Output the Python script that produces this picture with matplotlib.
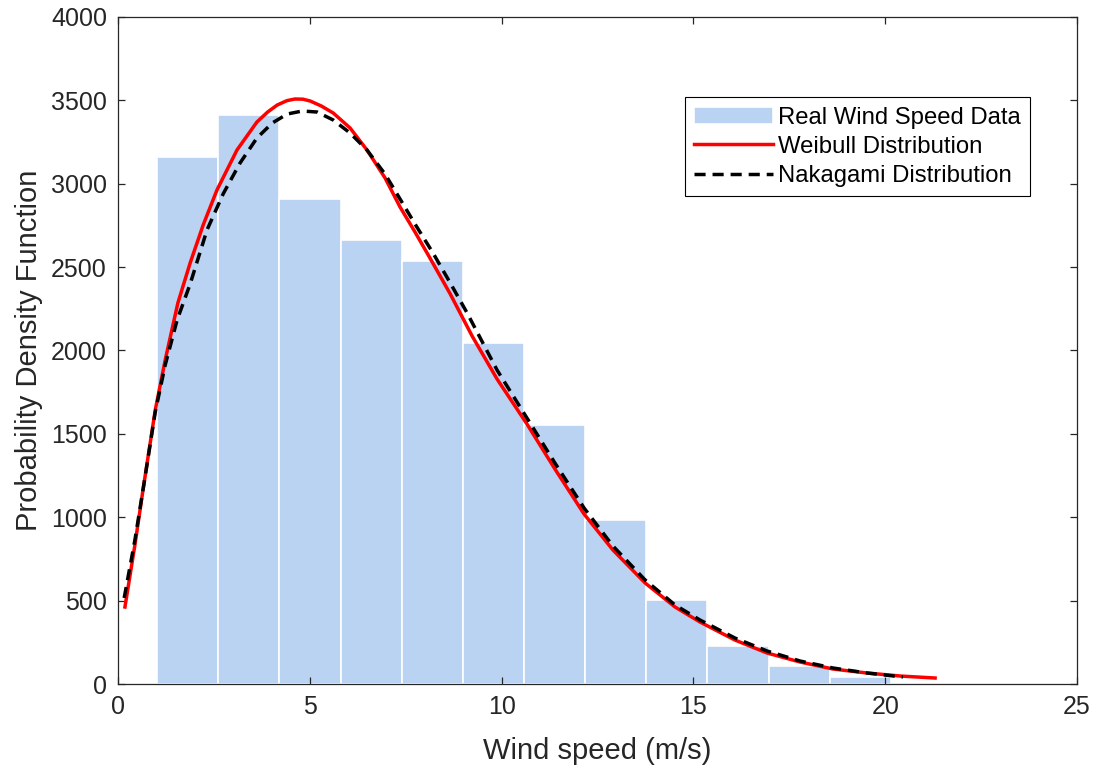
import matplotlib
matplotlib.use('Agg')
import matplotlib.pyplot as plt

plt.rcParams['font.family'] = ['Liberation Sans', 'DejaVu Sans']

# histogram of measured wind speed (bin edges in m/s, counts)
bin_edges = [1.02, 2.61, 4.20, 5.80, 7.39, 8.99, 10.58, 12.17, 13.77, 15.36, 16.96, 18.55, 20.14]
counts = [3160, 3410, 2910, 2665, 2535, 2045, 1555, 985, 505, 230, 108, 40]

# fitted Weibull curve
weib_x = [0.18, 0.44, 0.65, 0.97, 1.23, 1.56, 1.88, 2.22, 2.58, 3.10, 3.62, 3.90, 4.15, 4.40,
          4.61, 4.82, 5.01, 5.30, 5.61, 6.05, 6.49, 6.96, 7.35, 7.74, 8.13, 8.66, 9.23, 9.88,
          10.66, 11.39, 12.15, 12.90, 13.74, 14.52, 15.17, 16.08, 16.92, 17.78, 18.64, 19.53,
          20.39, 21.30]
weib_y = [462, 834, 1163, 1643, 1943, 2285, 2525, 2753, 2963, 3202, 3370, 3430, 3472, 3498,
          3508, 3507, 3496, 3466, 3424, 3334, 3202, 3035, 2861, 2711, 2555, 2339, 2087, 1829,
          1559, 1289, 1019, 804, 606, 462, 372, 264, 186, 132, 90, 66,
          48, 36]

# fitted Nakagami curve
naka_x = [0.16, 0.44, 0.70, 0.97, 1.23, 1.54, 1.88, 2.32, 2.74, 3.18, 3.62, 4.02, 4.41, 4.80,
          5.19, 5.61, 6.05, 6.49, 6.96, 7.35, 7.74, 8.21, 8.66, 9.10, 9.88, 10.66, 11.39,
          12.15, 12.90, 13.74, 14.52, 15.17, 16.08, 16.92, 17.78, 18.64, 19.53, 20.46]
naka_y = [516, 864, 1235, 1631, 1913, 2183, 2399, 2723, 2939, 3124, 3274, 3364, 3418, 3436,
          3430, 3382, 3304, 3202, 3058, 2909, 2759, 2585, 2405, 2225, 1883, 1595, 1325,
          1055, 828, 624, 474, 384, 276, 198, 138, 96, 66, 42]

fig = plt.figure(figsize=(10.96, 7.71), dpi=100)
ax = fig.add_axes([0.1077, 0.1128, 0.875, 0.8652])

ax.hist(bin_edges[:-1], bins=bin_edges, weights=counts, color='#bad3f2',
        edgecolor='white', linewidth=1.2, label='Real Wind Speed Data')
ax.plot(weib_x, weib_y, color='#ff0000', lw=2.5, label='Weibull Distribution')
ax.plot(naka_x, naka_y, color='black', lw=2.5, linestyle=(0, (3.2, 2.0)),
        label='Nakagami Distribution')

ax.set_xlim(0, 25)
ax.set_ylim(0, 4000)
ax.set_xticks([0, 5, 10, 15, 20, 25])
ax.set_yticks(range(0, 4001, 500))

gray = '#262626'
for s in ax.spines.values():
    s.set_color(gray)
    s.set_linewidth(0.9)
ax.tick_params(direction='in', top=True, right=True, length=5, width=0.9,
               color=gray, labelcolor=gray, labelsize=18, pad=8)

ax.set_xlabel('Wind speed (m/s)', fontsize=21, color=gray, labelpad=13)
ax.set_ylabel('Probability Density Function', fontsize=21, color=gray, labelpad=6)

leg = ax.legend(loc='upper right', bbox_to_anchor=(0.951, 0.880), fontsize=17.2,
                frameon=True, fancybox=False, framealpha=1, edgecolor='black',
                handlelength=3.3, handletextpad=0.2, borderpad=0.4, labelspacing=0.3,
                borderaxespad=0)
leg.get_frame().set_linewidth(0.8)
for t in leg.get_texts():
    t.set_color('black')

fig.savefig('out.png', dpi=100)
